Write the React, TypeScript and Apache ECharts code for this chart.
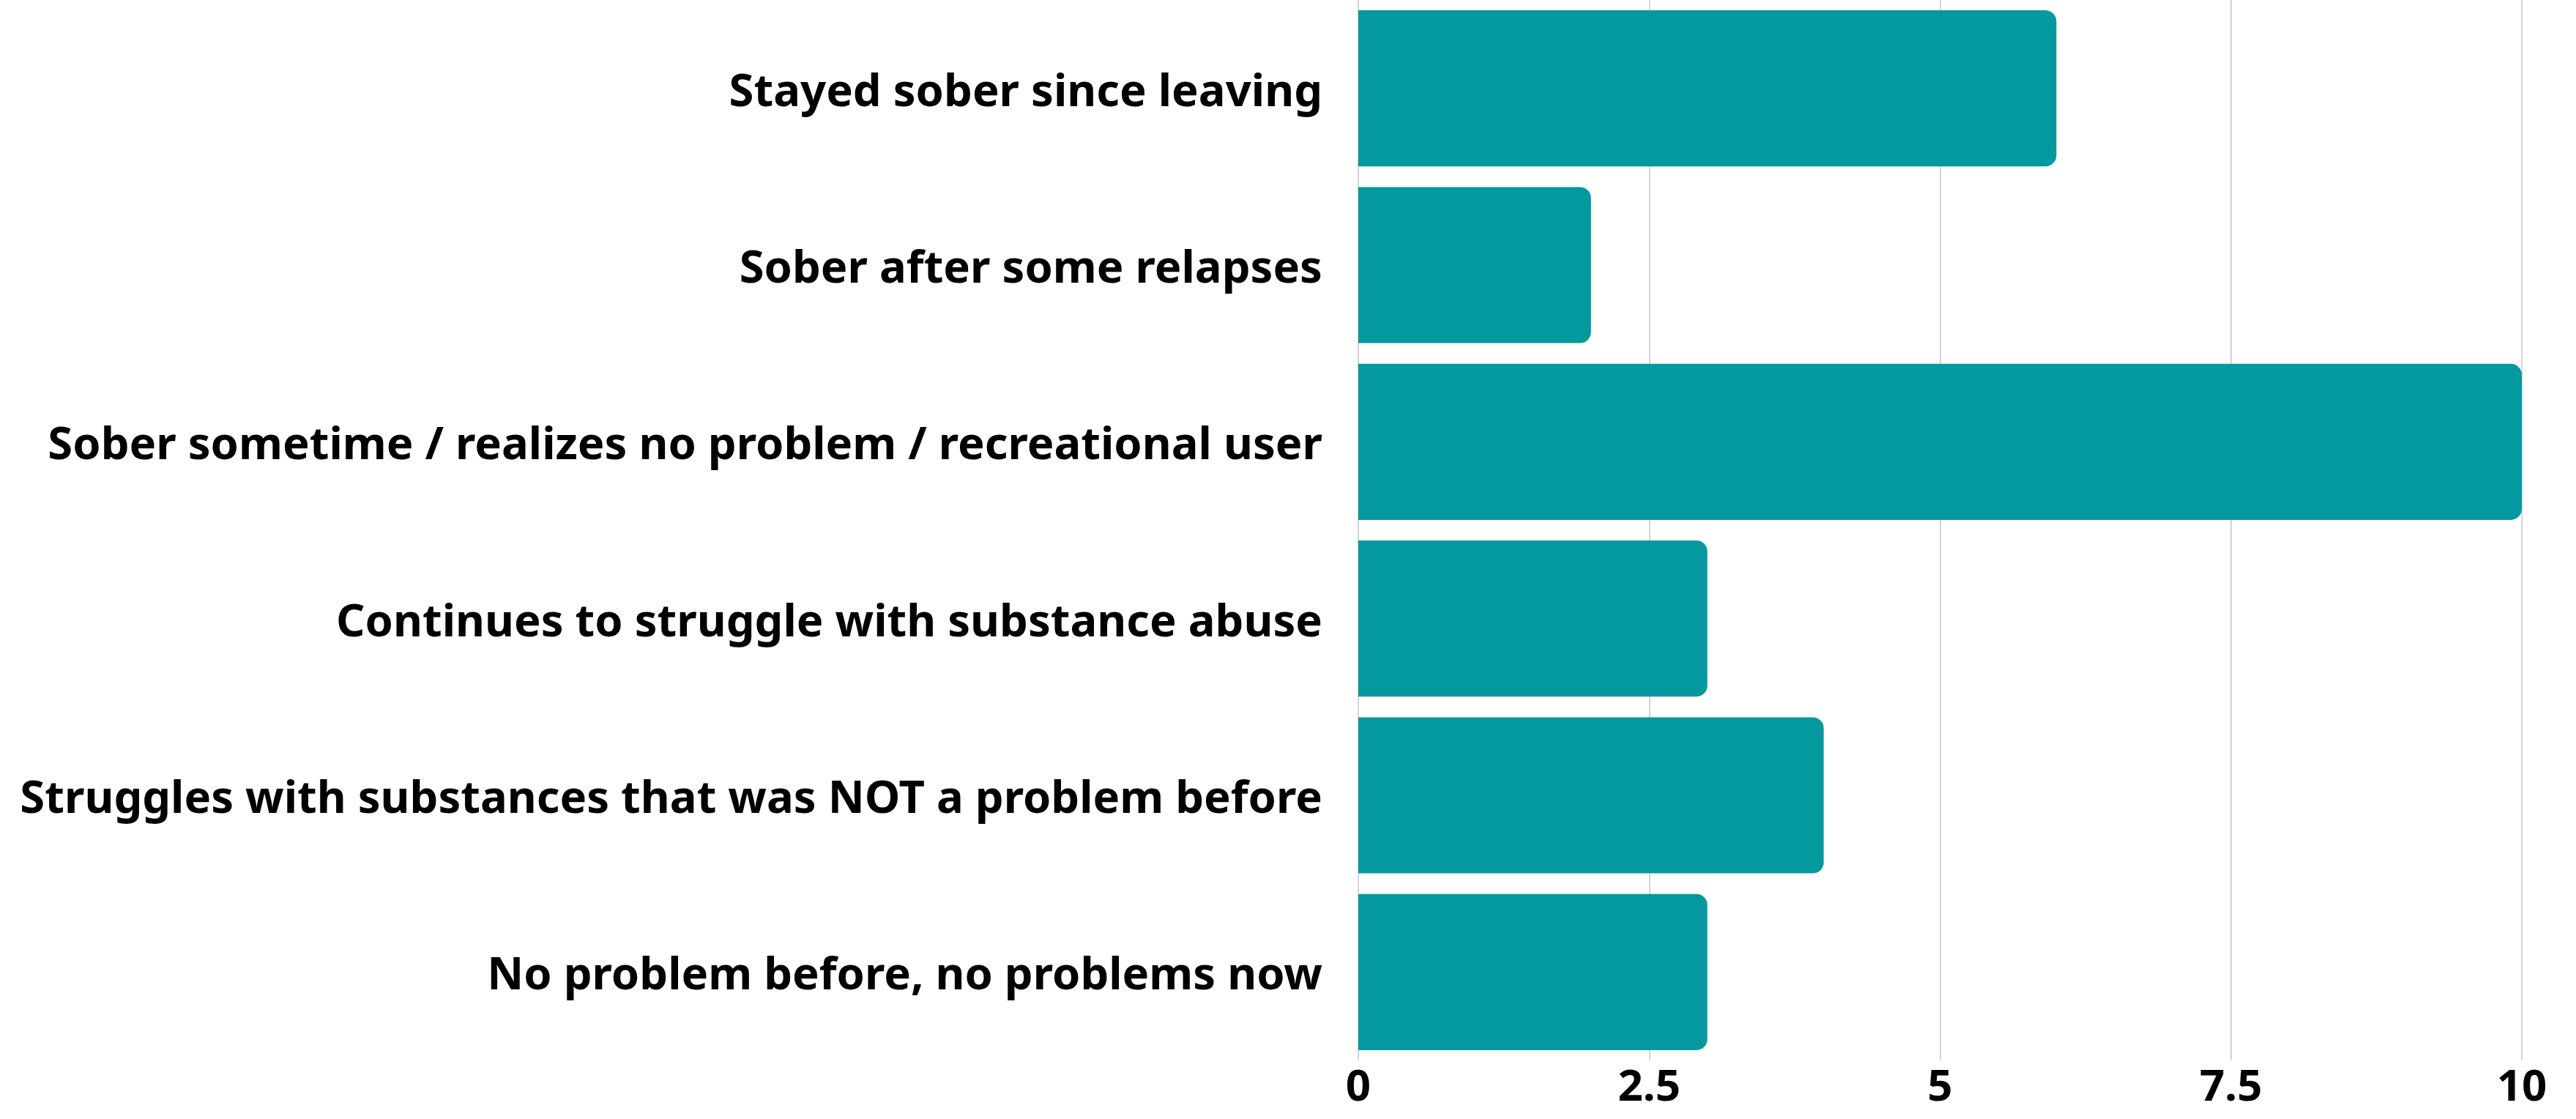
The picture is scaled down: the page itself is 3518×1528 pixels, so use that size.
import React, { useEffect, useRef } from "react";
import * as echarts from "echarts";

const categories = [
  "Stayed sober since leaving",
  "Sober after some relapses",
  "Sober sometime / realizes no problem / recreational user",
  "Continues to struggle with substance abuse",
  "Struggles with substances that was NOT a problem before",
  "No problem before, no problems now",
];
const values = [6, 2, 10, 3, 4, 3];
const xTicks = { min: 0, max: 10, interval: 2.5 };

export default function App() {
  const ref = useRef<HTMLDivElement>(null);
  useEffect(() => {
    document.body.style.margin = "0";
    const chart = echarts.init(ref.current!, null, { renderer: "svg" });
    chart.setOption({
      animation: false,
      backgroundColor: "#ffffff",
      grid: { left: 1855, right: 74, top: -4, bottom: 80, containLabel: false },
      xAxis: {
        type: "value",
        min: xTicks.min,
        max: xTicks.max,
        interval: xTicks.interval,
        axisLine: { show: false },
        axisTick: { show: false },
        splitLine: { show: true, lineStyle: { color: "#d4d4d4", width: 2 } },
        axisLabel: {
          color: "#000",
          fontFamily: "Noto Sans",
          fontWeight: 700,
          fontSize: 60,
          lineHeight: 60,
          margin: 2,
          formatter: (v: number) => String(v),
        },
      },
      yAxis: {
        type: "category",
        data: categories,
        inverse: true,
        axisLine: { show: false },
        axisTick: { show: false },
        splitLine: { show: false },
        axisLabel: {
          color: "#000",
          fontFamily: "Noto Sans",
          fontWeight: 700,
          fontSize: 61.5,
          margin: 49,
        },
      },
      series: [
        {
          type: "bar",
          data: values,
          barCategoryGap: "11.7%",
          itemStyle: { color: "#04999e", borderRadius: [0, 15, 15, 0] },
        },
      ],
    });
    return () => chart.dispose();
  }, []);
  return <div ref={ref} style={{ width: 3518, height: 1528 }} />;
}
